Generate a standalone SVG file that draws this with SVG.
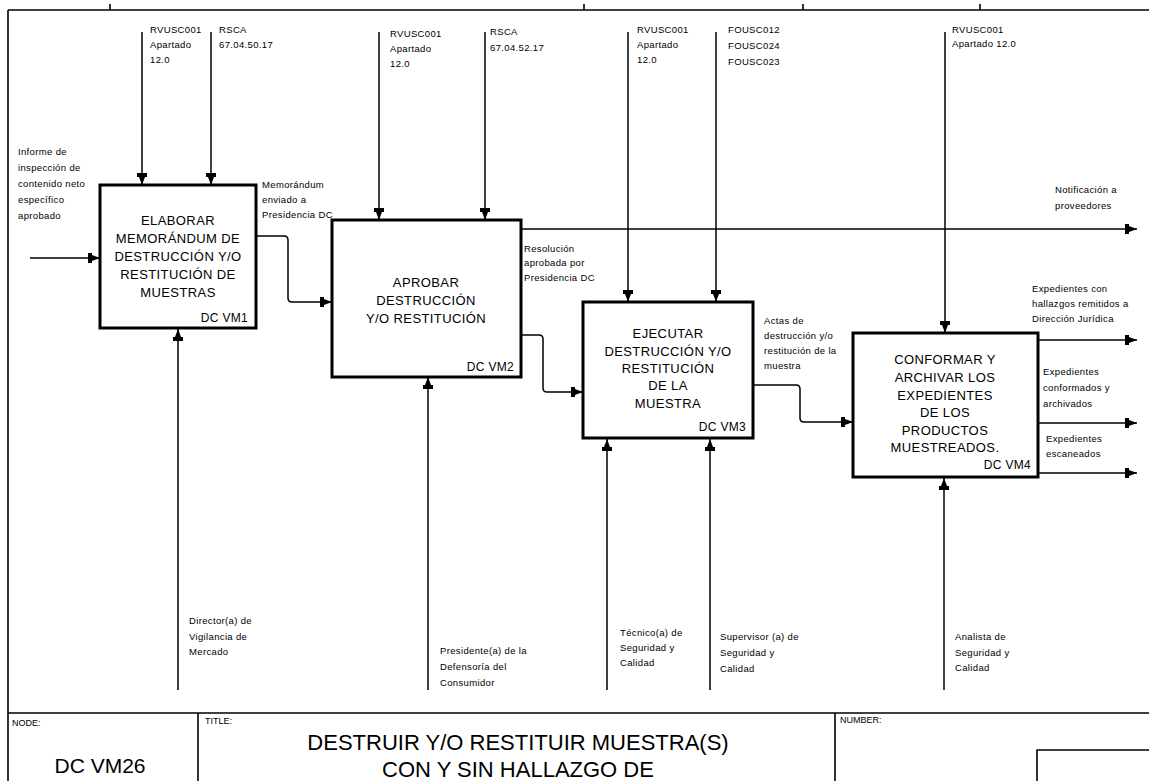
<svg xmlns="http://www.w3.org/2000/svg" width="1149" height="781" viewBox="0 0 1149 781">
<style>
.frame{fill:none;stroke:#000;stroke-width:1.6}
.box{fill:#fff;stroke:#000;stroke-width:3}
.c{fill:none;stroke:#000;stroke-width:1.5}
.bt{font-family:"Liberation Sans",Arial,sans-serif;font-size:13px;letter-spacing:0.4px;text-anchor:middle;fill:#000}
.id{font-family:"Liberation Sans",Arial,sans-serif;font-size:12px;letter-spacing:0.3px;text-anchor:end;fill:#000}
.lb{font-family:"Liberation Sans",Arial,sans-serif;font-size:9.5px;letter-spacing:0.35px;fill:#000}
.sm{font-family:"Liberation Sans",Arial,sans-serif;font-size:9px;fill:#000}
.big{font-family:"Liberation Sans",Arial,sans-serif;font-size:22px;fill:#000;text-anchor:middle}
</style>
<defs>
<marker id="ah" viewBox="0 0 12 12" refX="12" refY="6" markerWidth="12" markerHeight="12" markerUnits="userSpaceOnUse" orient="auto">
<path d="M0,1 L4,1 L4,3 L12,6 L4,9 L4,11 L0,11 Z" fill="#000"/>
</marker>
</defs>
<rect width="1149" height="781" fill="#fff"/>
<g id="frame">
<line class="frame" x1="8" y1="10" x2="1149" y2="10"/>
<line class="frame" x1="8" y1="10" x2="8" y2="781"/>
<line class="frame" x1="110" y1="4" x2="110" y2="10"/>
<line class="frame" x1="584" y1="4" x2="584" y2="10"/>
<line class="frame" x1="803" y1="4" x2="803" y2="10"/>
<line class="frame" x1="980" y1="4" x2="980" y2="10"/>
<line class="frame" x1="8" y1="713" x2="1149" y2="713"/>
<line class="frame" x1="198" y1="713" x2="198" y2="781"/>
<line class="frame" x1="835" y1="713" x2="835" y2="781"/>
<polyline class="frame" points="1037,781 1037,750 1149,750"/>
<text class="sm" x="12" y="726">NODE:</text>
<text class="big" x="100" y="773" style="font-size:21px">DC VM26</text>
<text class="sm" x="205" y="724">TITLE:</text>
<text class="big" x="518" y="750">DESTRUIR Y/O RESTITUIR  MUESTRA(S)</text>
<text class="big" x="518" y="777">CON Y SIN  HALLAZGO DE</text>
<text class="sm" x="840" y="723">NUMBER:</text>
</g>
<g id="connectors">
<line class="c" x1="142" y1="32" x2="142" y2="185" marker-end="url(#ah)"/>
<line class="c" x1="211" y1="32" x2="211" y2="185" marker-end="url(#ah)"/>
<line class="c" x1="379" y1="32" x2="379" y2="220" marker-end="url(#ah)"/>
<line class="c" x1="485" y1="32" x2="485" y2="220" marker-end="url(#ah)"/>
<line class="c" x1="628" y1="32" x2="628" y2="302" marker-end="url(#ah)"/>
<line class="c" x1="716" y1="32" x2="716" y2="302" marker-end="url(#ah)"/>
<line class="c" x1="945" y1="32" x2="945" y2="333" marker-end="url(#ah)"/>
<line class="c" x1="178" y1="690" x2="178" y2="329" marker-end="url(#ah)"/>
<line class="c" x1="428" y1="690" x2="428" y2="377" marker-end="url(#ah)"/>
<line class="c" x1="607" y1="690" x2="607" y2="439" marker-end="url(#ah)"/>
<line class="c" x1="710" y1="690" x2="710" y2="439" marker-end="url(#ah)"/>
<line class="c" x1="944" y1="690" x2="944" y2="478" marker-end="url(#ah)"/>
<line class="c" x1="30" y1="258" x2="100" y2="258" marker-end="url(#ah)"/>
<path class="c" d="M257,236 H284 Q288,236 288,240 V298 Q288,302 292,302 H332" marker-end="url(#ah)"/>
<line class="c" x1="522" y1="229" x2="1137" y2="229" marker-end="url(#ah)"/>
<path class="c" d="M522,335 H539 Q543,335 543,339 V388 Q543,392 547,392 H583" marker-end="url(#ah)"/>
<path class="c" d="M753,385 H796 Q800,385 800,389 V418 Q800,422 804,422 H853" marker-end="url(#ah)"/>
<line class="c" x1="1038" y1="340" x2="1137" y2="340" marker-end="url(#ah)"/>
<line class="c" x1="1038" y1="423" x2="1137" y2="423" marker-end="url(#ah)"/>
<line class="c" x1="1038" y1="473" x2="1137" y2="473" marker-end="url(#ah)"/>
</g>
<g id="labels">
<text class="lb" x="150" y="33">RVUSC001</text>
<text class="lb" x="150" y="48">Apartado</text>
<text class="lb" x="150" y="63">12.0</text>
<text class="lb" x="219" y="33">RSCA</text>
<text class="lb" x="219" y="48">67.04.50.17</text>
<text class="lb" x="390" y="37">RVUSC001</text>
<text class="lb" x="390" y="52">Apartado</text>
<text class="lb" x="390" y="67">12.0</text>
<text class="lb" x="490" y="35">RSCA</text>
<text class="lb" x="490" y="51">67.04.52.17</text>
<text class="lb" x="637" y="33">RVUSC001</text>
<text class="lb" x="637" y="48">Apartado</text>
<text class="lb" x="637" y="63">12.0</text>
<text class="lb" x="728" y="33">FOUSC012</text>
<text class="lb" x="728" y="49">FOUSC024</text>
<text class="lb" x="728" y="65">FOUSC023</text>
<text class="lb" x="952" y="33">RVUSC001</text>
<text class="lb" x="952" y="47">Apartado 12.0</text>
<text class="lb" x="18" y="155">Informe de</text>
<text class="lb" x="18" y="171">inspección de</text>
<text class="lb" x="18" y="187">contenido neto</text>
<text class="lb" x="18" y="203">específico</text>
<text class="lb" x="18" y="219">aprobado</text>
<text class="lb" x="262" y="188">Memorándum</text>
<text class="lb" x="262" y="203">enviado a</text>
<text class="lb" x="262" y="218">Presidencia DC</text>
<text class="lb" x="1055" y="193">Notificación a</text>
<text class="lb" x="1055" y="209">proveedores</text>
<text class="lb" x="524" y="252">Resolución</text>
<text class="lb" x="524" y="266">aprobada por</text>
<text class="lb" x="524" y="281">Presidencia DC</text>
<text class="lb" x="764" y="324">Actas de</text>
<text class="lb" x="764" y="339">destrucción y/o</text>
<text class="lb" x="764" y="354">restitución de la</text>
<text class="lb" x="764" y="369">muestra</text>
<text class="lb" x="1032" y="292">Expedientes con</text>
<text class="lb" x="1032" y="307">hallazgos remitidos a</text>
<text class="lb" x="1032" y="322">Dirección Jurídica</text>
<text class="lb" x="1043" y="375">Expedientes</text>
<text class="lb" x="1043" y="391">conformados y</text>
<text class="lb" x="1043" y="407">archivados</text>
<text class="lb" x="1046" y="442">Expedientes</text>
<text class="lb" x="1046" y="457">escaneados</text>
<text class="lb" x="189" y="624">Director(a) de</text>
<text class="lb" x="189" y="640">Vigilancia de</text>
<text class="lb" x="189" y="655">Mercado</text>
<text class="lb" x="440" y="654">Presidente(a) de la</text>
<text class="lb" x="440" y="670">Defensoría del</text>
<text class="lb" x="440" y="686">Consumidor</text>
<text class="lb" x="620" y="636">Técnico(a) de</text>
<text class="lb" x="620" y="651">Seguridad y</text>
<text class="lb" x="620" y="666">Calidad</text>
<text class="lb" x="720" y="640">Supervisor (a) de</text>
<text class="lb" x="720" y="656">Seguridad y</text>
<text class="lb" x="720" y="672">Calidad</text>
<text class="lb" x="955" y="640">Analista de</text>
<text class="lb" x="955" y="656">Seguridad y</text>
<text class="lb" x="955" y="671">Calidad</text>
</g>
<g id="node1">
<rect class="box" x="100" y="185" width="156" height="143"/>
<text class="bt" x="178" y="225">ELABORAR</text>
<text class="bt" x="178" y="243">MEMORÁNDUM DE</text>
<text class="bt" x="178" y="261">DESTRUCCIÓN Y/O</text>
<text class="bt" x="178" y="279">RESTITUCIÓN DE</text>
<text class="bt" x="178" y="297">MUESTRAS</text>
<text class="id" x="248" y="322">DC VM1</text>
</g>
<g id="node2">
<rect class="box" x="332" y="220" width="189" height="157"/>
<text class="bt" x="426" y="287">APROBAR</text>
<text class="bt" x="426" y="305">DESTRUCCIÓN</text>
<text class="bt" x="426" y="323">Y/O RESTITUCIÓN</text>
<text class="id" x="514" y="371">DC VM2</text>
</g>
<g id="node3">
<rect class="box" x="583" y="302" width="170" height="136"/>
<text class="bt" x="668" y="338">EJECUTAR</text>
<text class="bt" x="668" y="356">DESTRUCCIÓN Y/O</text>
<text class="bt" x="668" y="373">RESTITUCIÓN</text>
<text class="bt" x="668" y="390">DE LA</text>
<text class="bt" x="668" y="408">MUESTRA</text>
<text class="id" x="746" y="431">DC VM3</text>
</g>
<g id="node4">
<rect class="box" x="853" y="333" width="185" height="144"/>
<text class="bt" x="945" y="364">CONFORMAR Y</text>
<text class="bt" x="945" y="382">ARCHIVAR LOS</text>
<text class="bt" x="945" y="400">EXPEDIENTES</text>
<text class="bt" x="945" y="417">DE LOS</text>
<text class="bt" x="945" y="435">PRODUCTOS</text>
<text class="bt" x="945" y="452">MUESTREADOS.</text>
<text class="id" x="1031" y="469">DC VM4</text>
</g>
</svg>
